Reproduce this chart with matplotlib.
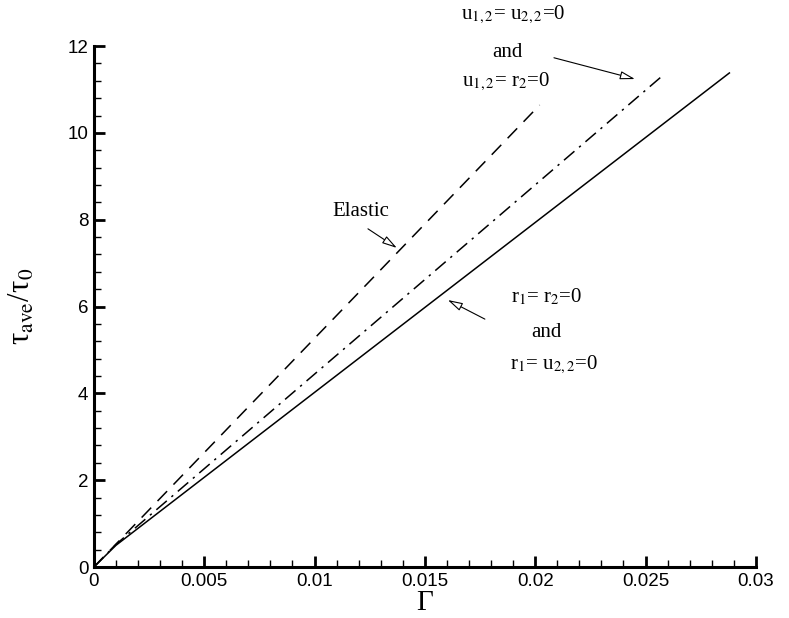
import matplotlib
matplotlib.use("Agg")
import matplotlib.pyplot as plt
from matplotlib.ticker import MultipleLocator

plt.rcParams["mathtext.fontset"] = "stix"
plt.rcParams["font.family"] = ["Liberation Sans", "DejaVu Sans"]

# Average shear stress vs. applied shear strain
gamma_elastic = [0.0, 0.0202]
tau_elastic = [0.0, 10.64]

gamma_u12 = [0.0, 0.0010, 0.0258]
tau_u12 = [0.0, 0.52, 11.33]

gamma_r1 = [0.0, 0.0010, 0.0288]
tau_r1 = [0.0, 0.50, 11.38]

xticks = [0, 0.005, 0.01, 0.015, 0.02, 0.025, 0.03]
xticklabels = ["0", "0.005", "0.01", "0.015", "0.02", "0.025", "0.03"]
yticks = [0, 2, 4, 6, 8, 10, 12]

SERIF = ["Liberation Serif", "DejaVu Serif"]

fig = plt.figure(figsize=(7.89, 6.18), dpi=100)
ax = fig.add_axes([0.119, 0.0825, 0.839, 0.843])

ax.plot(gamma_elastic, tau_elastic, color="black", lw=1.1, linestyle=(0, (9, 6)))
ax.plot(gamma_u12, tau_u12, color="black", lw=1.1, linestyle=(0, (9, 4, 1.5, 4)))
ax.plot(gamma_r1, tau_r1, color="black", lw=1.1, linestyle="-")

ax.set_xlim(0, 0.03)
ax.set_ylim(0, 12)
ax.set_xticks(xticks)
ax.set_xticklabels(xticklabels)
ax.set_yticks(yticks)
ax.xaxis.set_minor_locator(MultipleLocator(0.001))
ax.yaxis.set_minor_locator(MultipleLocator(0.4))

for s in ["top", "right"]:
    ax.spines[s].set_visible(False)
for s in ["left", "bottom"]:
    ax.spines[s].set_linewidth(2.2)

ax.tick_params(which="major", direction="in", length=8, width=2.0, labelsize=13.5, pad=4)
ax.tick_params(which="minor", direction="in", length=5, width=1.0)

ax.set_xlabel("Γ", fontsize=21, family=SERIF, labelpad=0)
ax.set_ylabel(r"τ$_{\mathrm{ave}}$/τ$_{\mathrm{0}}$", fontsize=22, family=SERIF, labelpad=22)

txt = dict(fontsize=15, ha="center", va="center", family=SERIF)
aprops = dict(arrowstyle="-|>,head_length=0.9,head_width=0.25", fc="white",
              ec="black", lw=0.8, shrinkA=0, shrinkB=0)

ax.text(0.0121, 8.18, "Elastic", **txt)
ax.annotate("", xy=(0.01373, 7.35), xytext=(0.01242, 7.79), arrowprops=aprops)

ax.text(0.0190, 12.72, r"u$_{\mathrm{1,2}}$= u$_{\mathrm{2,2}}$=0", **txt)
ax.text(0.01872, 11.84, "and", **txt)
ax.text(0.01867, 11.17, r"u$_{\mathrm{1,2}}$= r$_{\mathrm{2}}$=0", **txt)
ax.annotate("", xy=(0.02452, 11.24), xytext=(0.02085, 11.73), arrowprops=aprops)

ax.text(0.02053, 6.22, r"r$_{\mathrm{1}}$= r$_{\mathrm{2}}$=0", **txt)
ax.text(0.02053, 5.41, "and", **txt)
ax.text(0.02085, 4.65, r"r$_{\mathrm{1}}$= u$_{\mathrm{2,2}}$=0", **txt)
ax.annotate("", xy=(0.01604, 6.15), xytext=(0.01772, 5.71), arrowprops=aprops)

fig.savefig("out.png", dpi=100)
